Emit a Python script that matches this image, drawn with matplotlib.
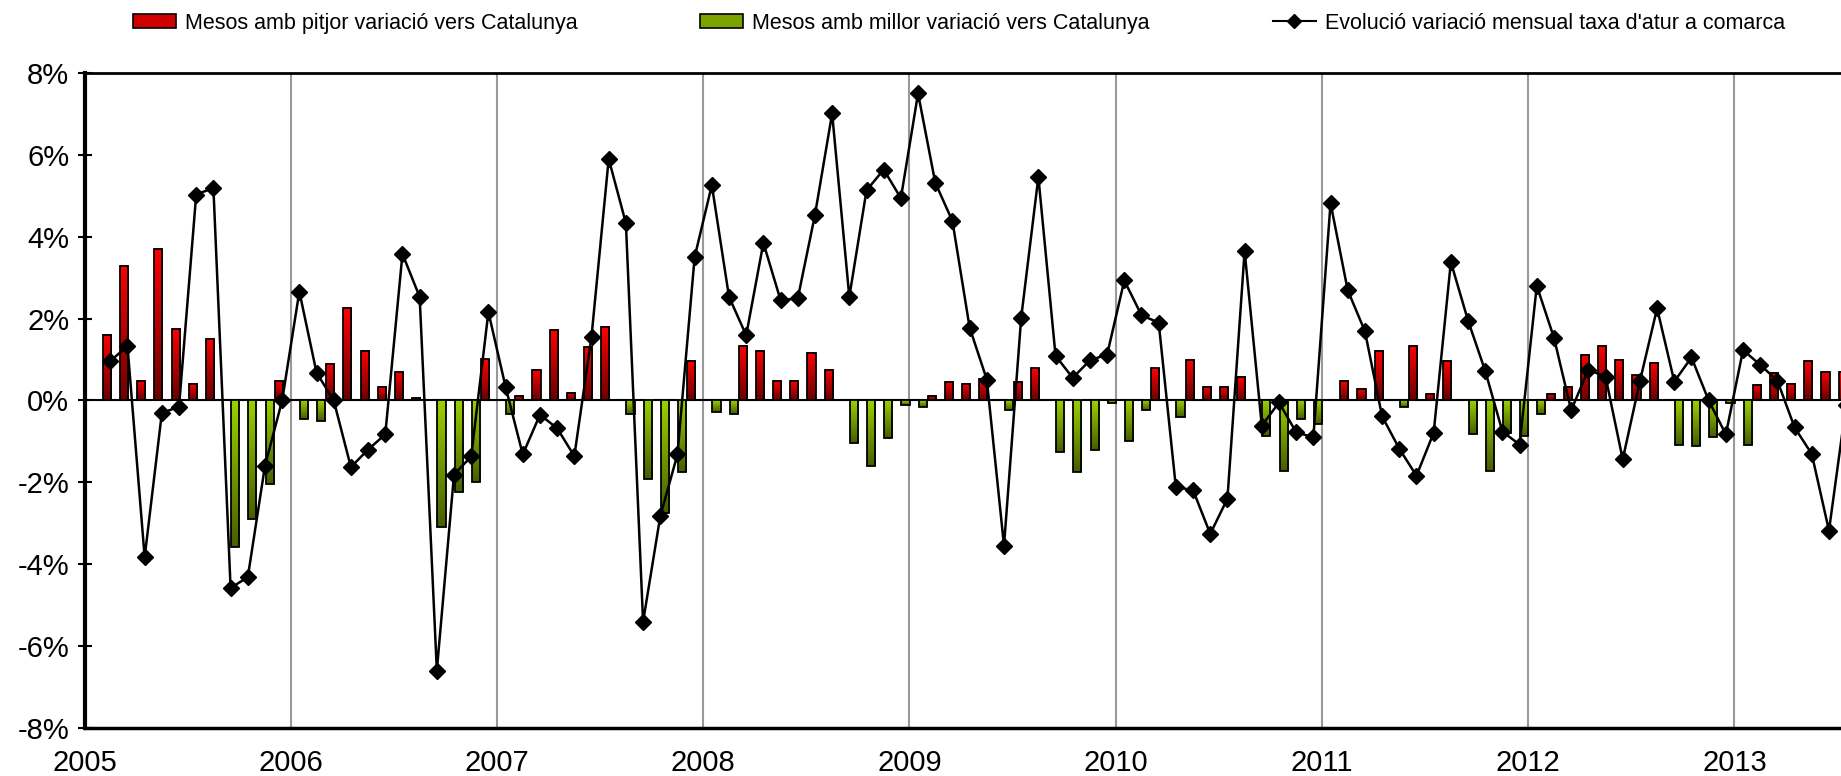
import matplotlib

matplotlib.use("Agg")
import matplotlib.pyplot as plt
import numpy as np
from matplotlib.colors import LinearSegmentedColormap
from matplotlib.lines import Line2D
from matplotlib.patches import Patch
from matplotlib.ticker import FuncFormatter

plt.rcParams["font.family"] = ["Liberation Sans", "DejaVu Sans"]

# variació mensual de la taxa d'atur a la comarca (%), de febrer 2005 endavant
variacio_comarca = [
    0.96, 1.33, -3.83, -0.31, -0.15, 5.03, 5.19, -4.58, -4.32, -1.60, 0.00,
    2.66, 0.68, 0.00, -1.63, -1.20, -0.83, 3.58, 2.53, -6.60, -1.81, -1.37, 2.16,
    0.33, -1.32, -0.35, -0.68, -1.36, 1.56, 5.90, 4.33, -5.41, -2.83, -1.32, 3.50,
    5.26, 2.53, 1.59, 3.85, 2.45, 2.49, 4.53, 7.01, 2.53, 5.13, 5.64, 4.94,
    7.50, 5.32, 4.38, 1.78, 0.51, -3.55, 2.02, 5.46, 1.09, 0.55, 0.98, 1.12,
    2.93, 2.08, 1.90, -2.12, -2.19, -3.26, -2.40, 3.65, -0.62, -0.05, -0.78, -0.90,
    4.82, 2.69, 1.69, -0.39, -1.18, -1.84, -0.79, 3.38, 1.95, 0.72, -0.76, -1.08,
    2.80, 1.53, -0.24, 0.75, 0.58, -1.44, 0.47, 2.25, 0.46, 1.05, 0.00, -0.83,
    1.23, 0.87, 0.48, -0.66, -1.31, -3.18, -0.10,
]

# diferència amb Catalunya (%): positiu = pitjor, negatiu = millor
diferencia_catalunya = [
    1.59, 3.28, 0.48, 3.70, 1.75, 0.40, 1.50, -3.58, -2.90, -2.05, 0.48,
    -0.45, -0.50, 0.90, 2.26, 1.21, 0.33, 0.69, 0.07, -3.10, -2.23, -2.00, 1.00,
    -0.33, 0.12, 0.74, 1.72, 0.19, 1.30, 1.80, -0.32, -1.93, -2.74, -1.76, 0.96,
    -0.28, -0.33, 1.34, 1.21, 0.48, 0.48, 1.16, 0.74, -1.03, -1.59, -0.92, -0.12,
    -0.15, 0.10, 0.44, 0.40, 0.53, -0.23, 0.44, 0.78, -1.25, -1.76, -1.21, -0.07,
    -1.00, -0.23, 0.78, -0.41, 0.99, 0.33, 0.33, 0.57, -0.87, -1.72, -0.45, -0.58,
    0.00, 0.48, 0.27, 1.21, -0.15, 1.34, 0.15, 0.96, -0.83, -1.72, -0.79, -0.87,
    -0.32, 0.15, 0.33, 1.12, 1.34, 0.99, 0.61, 0.92, -1.08, -1.12, -0.90, -0.06,
    -1.08, 0.37, 0.66, 0.40, 0.96, 0.69, 0.69,
]

anys = [str(a) for a in range(2005, 2014)]
etiquetes = [
    "Mesos amb pitjor variació vers Catalunya",
    "Mesos amb millor variació vers Catalunya",
    "Evolució variació mensual taxa d'atur a comarca",
]

mesos = np.arange(1, len(variacio_comarca) + 1) + 0.5
dif = np.array(diferencia_catalunya)
pitjor = np.where(dif > 0, dif, np.nan)
millor = np.where(dif < 0, dif, np.nan)

fig = plt.figure(figsize=(18.41, 7.76), dpi=100)
ax = fig.add_axes([0.0459, 0.062, 0.9541, 0.844])

ample = 0.47
barres_r = ax.bar(mesos - 0.2, pitjor, width=ample, color="none",
                  edgecolor="black", linewidth=1.3, zorder=3)
barres_v = ax.bar(mesos + 0.27, millor, width=ample, color="none",
                  edgecolor="black", linewidth=1.3, zorder=3)

# degradat vertical dins de cada barra
vermell = LinearSegmentedColormap.from_list("vermell", ["#6a0000", "#ff0000"])
verd = LinearSegmentedColormap.from_list("verd", ["#465e00", "#9bd000"])
grad = np.linspace(1, 0, 100).reshape(-1, 1)
for barres, cmap in [(barres_r, vermell), (barres_v, verd)]:
    for p in barres:
        h = p.get_height()
        if np.isnan(h):
            continue
        x0 = p.get_x()
        y0, y1 = sorted([p.get_y(), p.get_y() + h])
        ax.imshow(grad, cmap=cmap, extent=(x0, x0 + p.get_width(), y0, y1),
                  aspect="auto", interpolation="bilinear", zorder=2.5)

ax.axhline(0, color="black", lw=1.5, zorder=2)
ax.plot(mesos, variacio_comarca, color="black", lw=1.8, marker="D", ms=8.5, zorder=4)

ax.set_xlim(0, 102.2)
ax.set_ylim(-8, 8)
ax.set_xticks(np.arange(0, 12 * len(anys), 12))
ax.set_xticklabels(anys)
ax.set_yticks(range(-8, 9, 2))
ax.yaxis.set_major_formatter(FuncFormatter(lambda v, p: f"{v:.0f}%"))
ax.grid(axis="x", color="#999999", lw=1.5, zorder=0)
ax.tick_params(axis="x", length=0, labelsize=21, pad=15)
ax.tick_params(axis="y", direction="inout", length=10, width=1.5, labelsize=21, pad=6)

ax.spines["left"].set_linewidth(3)
ax.spines["top"].set_linewidth(2)
ax.spines["bottom"].set_linewidth(2.5)
ax.spines["right"].set_visible(False)

handles = [
    Patch(facecolor="#d00000", edgecolor="black", lw=1.2),
    Patch(facecolor="#7aa300", edgecolor="black", lw=1.2),
    Line2D([], [], color="black", marker="D", ms=7, lw=1.5),
]
fig.legend(handles, etiquetes, loc="center left", bbox_to_anchor=(0.0722, 0.970),
           ncol=3, frameon=False, fontsize=15.5, handlelength=2.0, handleheight=0.65,
           handletextpad=0.42, columnspacing=5.7, borderpad=0, borderaxespad=0)

fig.savefig("out.png", dpi=100)
